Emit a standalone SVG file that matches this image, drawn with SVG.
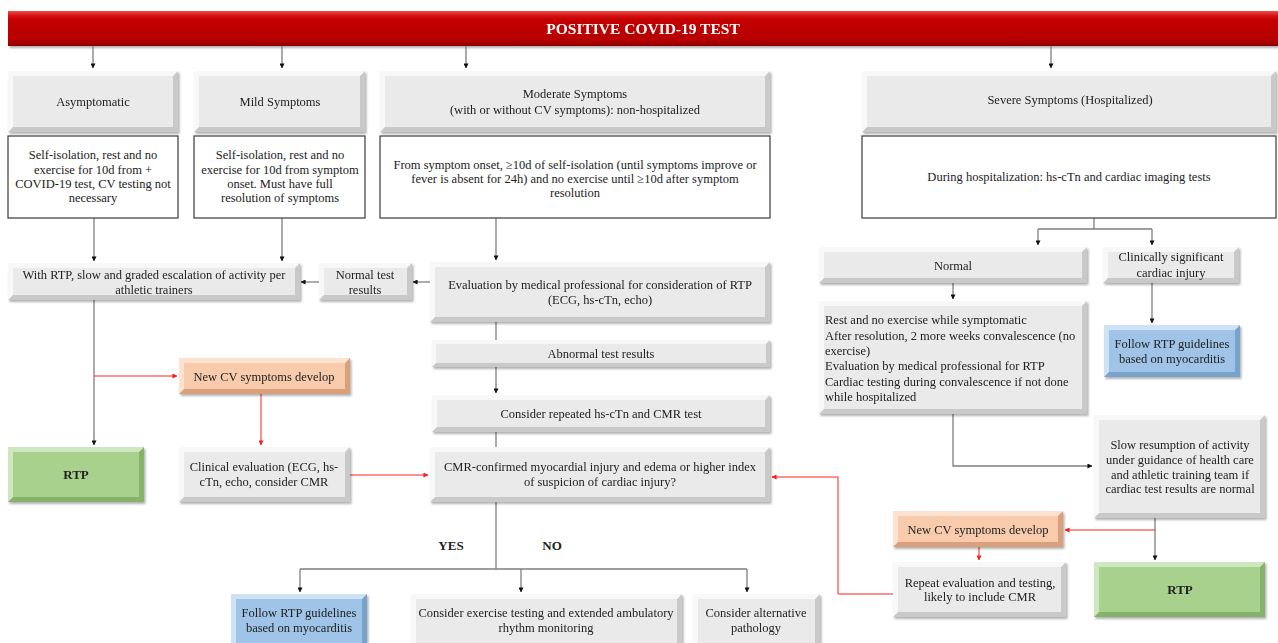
<svg xmlns="http://www.w3.org/2000/svg" width="1278" height="643" viewBox="0 0 1278 643" font-family="'Liberation Serif', 'DejaVu Serif', serif">
<style>
text{font-family:'Liberation Serif','DejaVu Serif',serif}
.t{font-size:12.5px;fill:#222;text-anchor:middle}
.tl{font-size:12.5px;fill:#222;text-anchor:start}
.b{font-weight:bold}
.gd{fill:#c9c9c9}.gl{fill:#f8f8f8}.gm{fill:#eaeaea}
.od{fill:#d9a07c}.ol{fill:#fde2cf}.om{fill:#f8cbad}
.bd{fill:#7aa3cc}.bl{fill:#cde2f5}.bm{fill:#9fc4e7}
.vd{fill:#86b36a}.vl{fill:#cfe7bf}.vm{fill:#a9d18e}
.wb{fill:#fff;stroke:#3a3a3a;stroke-width:1.2}
.c{fill:none;stroke:#7f7f7f;stroke-width:1.3}
.ca{fill:none;stroke:#7f7f7f;stroke-width:1.3;marker-end:url(#ab)}
.r{fill:none;stroke:#ff2020;stroke-width:1}
.ra{fill:none;stroke:#ff2020;stroke-width:1;marker-end:url(#ar)}
.sh{filter:url(#sh)}
</style>
<defs>
<marker id="ab" viewBox="0 0 6 6" refX="5.5" refY="3" markerWidth="5" markerHeight="5" markerUnits="userSpaceOnUse" orient="auto"><path d="M0,0 L6,3 L0,6 z" fill="#111"/></marker>
<marker id="ar" viewBox="0 0 6 6" refX="5.5" refY="3" markerWidth="5" markerHeight="5" markerUnits="userSpaceOnUse" orient="auto"><path d="M0,0 L6,3 L0,6 z" fill="#ff1a1a"/></marker>
<filter id="sh" x="-5%" y="-10%" width="115%" height="130%"><feDropShadow dx="1.5" dy="2" stdDeviation="1.3" flood-color="#000" flood-opacity="0.3"/></filter>
<linearGradient id="rg" x1="0" y1="0" x2="0" y2="1">
<stop offset="0" stop-color="#f24a4a"/><stop offset="0.14" stop-color="#d41414"/><stop offset="0.25" stop-color="#c40000"/><stop offset="0.85" stop-color="#b50000"/><stop offset="1" stop-color="#8c0000"/>
</linearGradient>
</defs>

<g id="banner" class="sh">
<rect x="8" y="11" width="1270" height="35" fill="url(#rg)"/>
<text x="643" y="34" class="t b" style="font-size:15.5px;fill:#fff">POSITIVE COVID-19 TEST</text>
</g>

<g id="connectors">
<path class="ca" d="M93,46 V68"/>
<path class="ca" d="M282,46 V68"/>
<path class="ca" d="M466,46 V68"/>
<path class="ca" d="M1051,46 V68"/>
<path class="ca" d="M94,218 V261"/>
<path class="ca" d="M282,218 V261"/>
<path class="ca" d="M496,218 V260"/>
<path class="ca" d="M430,282 H413"/>
<path class="ca" d="M319,282 H301"/>
<path class="c" d="M496,322 V340"/>
<path class="ca" d="M496,367 V393"/>
<path class="c" d="M496,432 V447"/>
<path class="ca" d="M94,300 V445"/>
<path class="ra" d="M94,376 H177"/>
<path class="ra" d="M261,394 V445"/>
<path class="ra" d="M350,475 H428"/>
<path class="c" d="M496,502 V569 M300,569 H747"/>
<path class="ca" d="M300,569 V592"/>
<path class="ca" d="M521,569 V592"/>
<path class="ca" d="M747,569 V592"/>
<path class="c" d="M1094,218 V229 M1038,229 H1152"/>
<path class="ca" d="M1038,229 V245"/>
<path class="ca" d="M1152,229 V245"/>
<path class="ca" d="M953,283 V299"/>
<path class="ca" d="M1152,283 V323"/>
<path class="ca" d="M953,414 V466 H1092"/>
<path class="ca" d="M1155,518 V560"/>
<path class="ra" d="M1155,530 H1065"/>
<path class="ra" d="M979,547 V560"/>
<path class="ra" d="M893,594 H838 V477 H772"/>
<text x="451" y="550" class="t b" style="font-size:13px">YES</text>
<text x="552" y="550" class="t b" style="font-size:13px">NO</text>
</g>

<g id="asymptomatic" class="sh">
<rect x="8" y="71" width="170" height="61" class="gd"/><path class="gl" d="M8,71 H178 L173,76 H13 V127 L8,132 Z"/><rect x="13" y="76" width="160" height="51" class="gm"/>
<text x="93" y="106" class="t">Asymptomatic</text>
</g>
<g id="mild" class="sh">
<rect x="194" y="71" width="171" height="61" class="gd"/><path class="gl" d="M194,71 H365 L360,76 H199 V127 L194,132 Z"/><rect x="199" y="76" width="161" height="51" class="gm"/>
<text x="280" y="106" class="t">Mild Symptoms</text>
</g>
<g id="moderate" class="sh">
<rect x="380" y="71" width="390" height="61" class="gd"/><path class="gl" d="M380,71 H770 L765,76 H385 V127 L380,132 Z"/><rect x="385" y="76" width="380" height="51" class="gm"/>
<text x="575" y="98" class="t">Moderate Symptoms</text>
<text x="575" y="114" class="t">(with or without CV symptoms): non-hospitalized</text>
</g>
<g id="severe" class="sh">
<rect x="862" y="71" width="414" height="61" class="gd"/><path class="gl" d="M862,71 H1276 L1271,76 H867 V127 L862,132 Z"/><rect x="867" y="76" width="404" height="51" class="gm"/>
<text x="1070" y="104" class="t">Severe Symptoms (Hospitalized)</text>
</g>

<g id="asym-text">
<rect x="8" y="136" width="170" height="82" class="wb"/>
<text class="t"><tspan x="93" y="159">Self-isolation, rest and no</tspan><tspan x="93" y="174">exercise for 10d from +</tspan><tspan x="93" y="188">COVID-19 test, CV testing not</tspan><tspan x="93" y="202">necessary</tspan></text>
</g>
<g id="mild-text">
<rect x="194" y="136" width="171" height="82" class="wb"/>
<text class="t"><tspan x="280" y="159">Self-isolation, rest and no</tspan><tspan x="280" y="174">exercise for 10d from symptom</tspan><tspan x="280" y="188">onset. Must have full</tspan><tspan x="280" y="202">resolution of symptoms</tspan></text>
</g>
<g id="moderate-text">
<rect x="380" y="136" width="390" height="82" class="wb"/>
<text class="t"><tspan x="575" y="169">From symptom onset, ≥10d of self-isolation (until symptoms improve or</tspan><tspan x="575" y="183">fever is absent for 24h) and no exercise until ≥10d after symptom</tspan><tspan x="575" y="197">resolution</tspan></text>
</g>
<g id="severe-text">
<rect x="862" y="136" width="414" height="82" class="wb"/>
<text x="1069" y="181" class="t">During hospitalization: hs-cTn and cardiac imaging tests</text>
</g>

<g id="with-rtp" class="sh">
<rect x="8" y="263" width="292" height="37" class="gd"/><path class="gl" d="M8,263 H300 L295,268 H13 V295 L8,300 Z"/><rect x="13" y="268" width="282" height="27" class="gm"/>
<text class="t"><tspan x="154" y="279">With RTP, slow and graded escalation of activity per</tspan><tspan x="154" y="294">athletic trainers</tspan></text>
</g>
<g id="normal-test" class="sh">
<rect x="319" y="263" width="93" height="37" class="gd"/><path class="gl" d="M319,263 H412 L407,268 H324 V295 L319,300 Z"/><rect x="324" y="268" width="83" height="27" class="gm"/>
<text class="t"><tspan x="365" y="279">Normal test</tspan><tspan x="365" y="294">results</tspan></text>
</g>
<g id="evaluation" class="sh">
<rect x="430" y="262" width="340" height="60" class="gd"/><path class="gl" d="M430,262 H770 L765,267 H435 V317 L430,322 Z"/><rect x="435" y="267" width="330" height="50" class="gm"/>
<text class="t"><tspan x="600" y="289">Evaluation by medical professional for consideration of RTP</tspan><tspan x="600" y="304">(ECG, hs-cTn, echo)</tspan></text>
</g>
<g id="abnormal" class="sh">
<rect x="432" y="340" width="338" height="27" class="gd"/><path class="gl" d="M432,340 H770 L766,344 H436 V363 L432,367 Z"/><rect x="436" y="344" width="330" height="19" class="gm"/>
<text x="601" y="358" class="t">Abnormal test results</text>
</g>
<g id="consider-repeat" class="sh">
<rect x="432" y="395" width="338" height="37" class="gd"/><path class="gl" d="M432,395 H770 L765,400 H437 V427 L432,432 Z"/><rect x="437" y="400" width="328" height="27" class="gm"/>
<text x="601" y="418" class="t">Consider repeated hs-cTn and CMR test</text>
</g>
<g id="cmr" class="sh">
<rect x="430" y="447" width="340" height="55" class="gd"/><path class="gl" d="M430,447 H770 L765,452 H435 V497 L430,502 Z"/><rect x="435" y="452" width="330" height="45" class="gm"/>
<text class="t"><tspan x="600" y="471">CMR-confirmed myocardial injury and edema or higher index</tspan><tspan x="600" y="486">of suspicion of cardiac injury?</tspan></text>
</g>
<g id="new-cv-left" class="sh">
<rect x="179" y="358" width="171" height="36" class="od"/><path class="ol" d="M179,358 H350 L345,363 H184 V389 L179,394 Z"/><rect x="184" y="363" width="161" height="26" class="om"/>
<text x="264" y="381" class="t">New CV symptoms develop</text>
</g>
<g id="clinical-eval" class="sh">
<rect x="179" y="447" width="171" height="55" class="gd"/><path class="gl" d="M179,447 H350 L345,452 H184 V497 L179,502 Z"/><rect x="184" y="452" width="161" height="45" class="gm"/>
<text class="t"><tspan x="264" y="471">Clinical evaluation (ECG, hs-</tspan><tspan x="264" y="486">cTn, echo, consider CMR</tspan></text>
</g>
<g id="rtp-left" class="sh">
<rect x="8" y="447" width="136" height="55" class="vd"/><path class="vl" d="M8,447 H144 L139,452 H13 V497 L8,502 Z"/><rect x="13" y="452" width="126" height="45" class="vm"/>
<text x="76" y="479" class="t b" style="font-size:13px">RTP</text>
</g>
<g id="follow-myocarditis-bottom" class="sh">
<rect x="231" y="594" width="136" height="56" class="bd"/><path class="bl" d="M231,594 H367 L362,599 H236 V645 L231,650 Z"/><rect x="236" y="599" width="126" height="46" class="bm"/>
<text class="t"><tspan x="299" y="617">Follow RTP guidelines</tspan><tspan x="299" y="632">based on myocarditis</tspan></text>
</g>
<g id="exercise-testing" class="sh">
<rect x="411" y="594" width="271" height="56" class="gd"/><path class="gl" d="M411,594 H682 L677,599 H416 V645 L411,650 Z"/><rect x="416" y="599" width="261" height="46" class="gm"/>
<text class="t"><tspan x="546" y="617">Consider exercise testing and extended ambulatory</tspan><tspan x="546" y="632">rhythm monitoring</tspan></text>
</g>
<g id="alternative" class="sh">
<rect x="693" y="594" width="127" height="56" class="gd"/><path class="gl" d="M693,594 H820 L815,599 H698 V645 L693,650 Z"/><rect x="698" y="599" width="117" height="46" class="gm"/>
<text class="t"><tspan x="756" y="617">Consider alternative</tspan><tspan x="756" y="632">pathology</tspan></text>
</g>

<g id="normal-right" class="sh">
<rect x="819" y="247" width="268" height="36" class="gd"/><path class="gl" d="M819,247 H1087 L1082,252 H824 V278 L819,283 Z"/><rect x="824" y="252" width="258" height="26" class="gm"/>
<text x="953" y="270" class="t">Normal</text>
</g>
<g id="clin-significant" class="sh">
<rect x="1103" y="247" width="136" height="36" class="gd"/><path class="gl" d="M1103,247 H1239 L1234,252 H1108 V278 L1103,283 Z"/><rect x="1108" y="252" width="126" height="26" class="gm"/>
<text class="t"><tspan x="1171" y="261">Clinically significant</tspan><tspan x="1171" y="277">cardiac injury</tspan></text>
</g>
<g id="rest" class="sh">
<rect x="819" y="301" width="268" height="113" class="gd"/><path class="gl" d="M819,301 H1087 L1082,306 H824 V409 L819,414 Z"/><rect x="824" y="306" width="258" height="103" class="gm"/>
<text class="tl"><tspan x="825" y="324">Rest and no exercise while symptomatic</tspan><tspan x="825" y="340">After resolution, 2 more weeks convalescence (no</tspan><tspan x="825" y="355">exercise)</tspan><tspan x="825" y="370">Evaluation by medical professional for RTP</tspan><tspan x="825" y="386">Cardiac testing during convalescence if not done</tspan><tspan x="825" y="401">while hospitalized</tspan></text>
</g>
<g id="follow-myocarditis-right" class="sh">
<rect x="1104" y="325" width="136" height="52" class="bd"/><path class="bl" d="M1104,325 H1240 L1235,330 H1109 V372 L1104,377 Z"/><rect x="1109" y="330" width="126" height="42" class="bm"/>
<text class="t"><tspan x="1172" y="348">Follow RTP guidelines</tspan><tspan x="1172" y="363">based on myocarditis</tspan></text>
</g>
<g id="slow-resumption" class="sh">
<rect x="1094" y="415" width="171" height="103" class="gd"/><path class="gl" d="M1094,415 H1265 L1260,420 H1099 V513 L1094,518 Z"/><rect x="1099" y="420" width="161" height="93" class="gm"/>
<text class="t"><tspan x="1180" y="449">Slow resumption of activity</tspan><tspan x="1180" y="464">under guidance of health care</tspan><tspan x="1180" y="479">and athletic training team if</tspan><tspan x="1180" y="493">cardiac test results are normal</tspan></text>
</g>
<g id="rtp-right" class="sh">
<rect x="1094" y="562" width="171" height="55" class="vd"/><path class="vl" d="M1094,562 H1265 L1260,567 H1099 V612 L1094,617 Z"/><rect x="1099" y="567" width="161" height="45" class="vm"/>
<text x="1180" y="594" class="t b" style="font-size:13px">RTP</text>
</g>
<g id="new-cv-right" class="sh">
<rect x="893" y="511" width="170" height="36" class="od"/><path class="ol" d="M893,511 H1063 L1058,516 H898 V542 L893,547 Z"/><rect x="898" y="516" width="160" height="26" class="om"/>
<text x="978" y="534" class="t">New CV symptoms develop</text>
</g>
<g id="repeat-eval" class="sh">
<rect x="893" y="562" width="173" height="55" class="gd"/><path class="gl" d="M893,562 H1066 L1061,567 H898 V612 L893,617 Z"/><rect x="898" y="567" width="163" height="45" class="gm"/>
<text class="t"><tspan x="980" y="587">Repeat evaluation and testing,</tspan><tspan x="980" y="601">likely to include CMR</tspan></text>
</g>
</svg>
